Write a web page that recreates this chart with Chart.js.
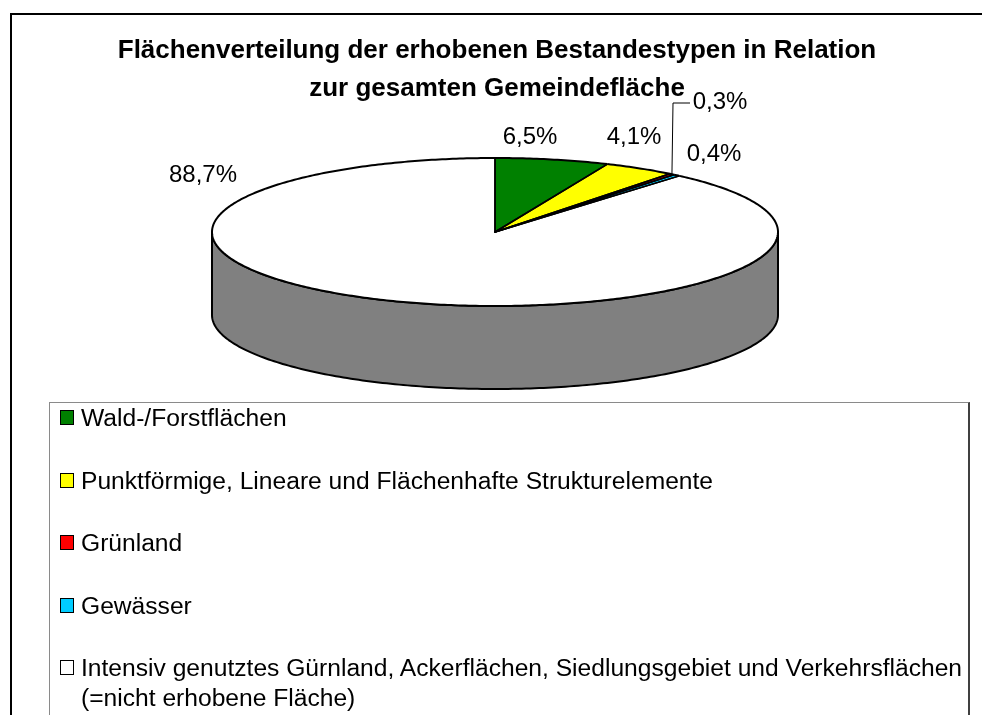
<!DOCTYPE html>
<html>
<head>
<meta charset="utf-8">
<script src="https://cdn.jsdelivr.net/npm/chart.js@4.4.1/dist/chart.umd.min.js"></script>
<style>
  html, body { margin:0; padding:0; background:#fff; width:982px; height:715px; overflow:hidden;
    font-family:"Liberation Sans", Arial, sans-serif; color:#000; }
  #frame { position:absolute; left:10px; top:13px; width:1000px; height:800px;
    border-left:2px solid #000; border-top:2px solid #000; }
  #chartCanvas { position:absolute; left:0; top:0; }
  #title { position:absolute; left:6px; width:982px; top:0; text-align:center; font-weight:bold;
    font-size:26px; }
  #title div { position:absolute; left:0; width:100%; }
  #legend { position:absolute; left:49px; top:402px; width:918px; height:400px;
    border:1px solid #8a8a8a; border-right:2px solid #404040; }
  .item { position:absolute; left:10px; font-size:23px; line-height:30px; white-space:nowrap; }
  .mk { position:absolute; left:0; top:7px; width:12px; height:13px; border:1.5px solid #000; }
  .tx { position:absolute; left:21px; top:0; transform:scaleX(1.07); transform-origin:left top; }
</style>
</head>
<body>
<div id="frame"></div>
<canvas id="chartCanvas" width="982" height="715"></canvas>
<div id="title"></div>
<div id="legend"></div>
<script>
// ---- data ----
const titleLines = ["Flächenverteilung der erhobenen Bestandestypen in Relation", "zur gesamten Gemeindefläche"];
const categories = [
  "Wald-/Forstflächen",
  "Punktförmige, Lineare und Flächenhafte Strukturelemente",
  "Grünland",
  "Gewässer",
  ["Intensiv genutztes Gürnland, Ackerflächen, Siedlungsgebiet und Verkehrsflächen", "(=nicht erhobene Fläche)"]
];
const shares = [6.5, 4.1, 0.3, 0.4, 88.7];
const sliceColors = ["#008000", "#FFFF00", "#FF0000", "#00CCFF", "#FFFFFF"];

// ---- layout / style constants ----
const SQUASH = 74 / 283;     // vertical squash of the tilted pie
const DEPTH = 83;            // thickness of the pie
const labelSpots = [[530,144],[634,144],[720,109],[714,161],[203,182]]; // text baselines (centre x)
const leader = { slice: 2, knee: [673,103], end: [690,103] };

function darker(hex) {
  const n = parseInt(hex.slice(1), 16);
  const r = (n >> 16) & 255, g = (n >> 8) & 255, b = n & 255;
  return `rgb(${Math.round(r*0.5)},${Math.round(g*0.5)},${Math.round(b*0.5)})`;
}
function fmt(v) { return v.toFixed(1).replace('.', ',') + '%'; }

const pie3d = {
  id: 'pie3d',
  beforeDatasetsDraw(chart) {
    const ctx = chart.ctx;
    const arcs = chart.getDatasetMeta(0).data;
    const { x: cx, y: cy, outerRadius: r } = arcs[0];
    const N = 200;
    const ex = a => cx + r * Math.cos(a), ey = a => cy + SQUASH * r * Math.sin(a);
    // side walls (front half only)
    arcs.forEach((arc, i) => {
      const a0 = Math.max(arc.startAngle, 0), a1 = Math.min(arc.endAngle, Math.PI);
      if (a1 <= a0) return;
      ctx.beginPath();
      for (let k = 0; k <= N; k++) { const a = a0 + (a1 - a0) * k / N; ctx.lineTo(ex(a), ey(a) + DEPTH); }
      for (let k = N; k >= 0; k--) { const a = a0 + (a1 - a0) * k / N; ctx.lineTo(ex(a), ey(a)); }
      ctx.closePath();
      ctx.fillStyle = darker(sliceColors[i]);
      ctx.fill();
      ctx.lineWidth = 2; ctx.strokeStyle = '#000'; ctx.lineJoin = 'round';
      ctx.stroke();
    });
    ctx.save();
    ctx.translate(cx, cy); ctx.scale(1, SQUASH); ctx.translate(-cx, -cy);
  },
  afterDatasetsDraw(chart) {
    const ctx = chart.ctx;
    ctx.restore();
    const arcs = chart.getDatasetMeta(0).data;
    const { x: cx, y: cy, outerRadius: r } = arcs[0];
    const ex = a => cx + r * Math.cos(a), ey = a => cy + SQUASH * r * Math.sin(a);
    ctx.save();
    ctx.strokeStyle = '#000'; ctx.lineJoin = 'round';
    // slice edges (thin enough to leave the narrow slices visible)
    ctx.lineWidth = 1.5;
    arcs.forEach(arc => {
      ctx.beginPath();
      ctx.moveTo(ex(arc.startAngle), ey(arc.startAngle));
      ctx.lineTo(cx, cy);
      ctx.lineTo(ex(arc.endAngle), ey(arc.endAngle));
      ctx.stroke();
    });
    // outer rim
    ctx.lineWidth = 2;
    arcs.forEach(arc => {
      const a0 = arc.startAngle, a1 = arc.endAngle, N = Math.max(4, Math.ceil((a1 - a0) * 80));
      ctx.beginPath();
      for (let k = 0; k <= N; k++) { const a = a0 + (a1 - a0) * k / N; ctx.lineTo(ex(a), ey(a)); }
      ctx.stroke();
    });
    // leader line for the small slice
    const la = arcs[leader.slice];
    const am = (la.startAngle + la.endAngle) / 2;
    ctx.lineWidth = 1; ctx.strokeStyle = '#000';
    ctx.beginPath();
    ctx.moveTo(ex(am), ey(am));
    ctx.lineTo(leader.knee[0], leader.knee[1]);
    ctx.lineTo(leader.end[0], leader.end[1]);
    ctx.stroke();
    // percentage labels
    ctx.fillStyle = '#000';
    ctx.font = '24px "Liberation Sans", Arial, sans-serif';
    ctx.textAlign = 'center'; ctx.textBaseline = 'alphabetic';
    shares.forEach((v, i) => ctx.fillText(fmt(v), labelSpots[i][0], labelSpots[i][1]));
    ctx.restore();
  }
};

const chart = new Chart(document.getElementById('chartCanvas'), {
  type: 'pie',
  data: {
    labels: categories,
    datasets: [{ data: shares, backgroundColor: sliceColors, borderWidth: 0 }]
  },
  options: {
    responsive: false,
    animation: false,
    radius: 283,
    layout: { padding: { left: 8, right: 0, top: 0, bottom: 251 } },
    plugins: { legend: { display: false }, tooltip: { enabled: false }, title: { display: false } },
    events: []
  },
  plugins: [pie3d]
});

// title
const titleEl = document.getElementById('title');
titleLines.forEach((t, i) => {
  const d = document.createElement('div');
  d.textContent = t;
  d.style.top = (34 + i * 38) + 'px';
  titleEl.appendChild(d);
});

// legend built from the chart's own labels/colours
const legendEl = document.getElementById('legend');
chart.data.labels.forEach((lab, i) => {
  const it = document.createElement('div');
  it.className = 'item';
  it.style.top = (0 + i * 62.5) + 'px';
  const mk = document.createElement('span');
  mk.className = 'mk';
  mk.style.background = chart.data.datasets[0].backgroundColor[i];
  const tx = document.createElement('span');
  tx.className = 'tx';
  (Array.isArray(lab) ? lab : [lab]).forEach((line, j) => {
    if (j) tx.appendChild(document.createElement('br'));
    tx.appendChild(document.createTextNode(line));
  });
  it.appendChild(mk); it.appendChild(tx);
  legendEl.appendChild(it);
});
</script>
</body>
</html>
